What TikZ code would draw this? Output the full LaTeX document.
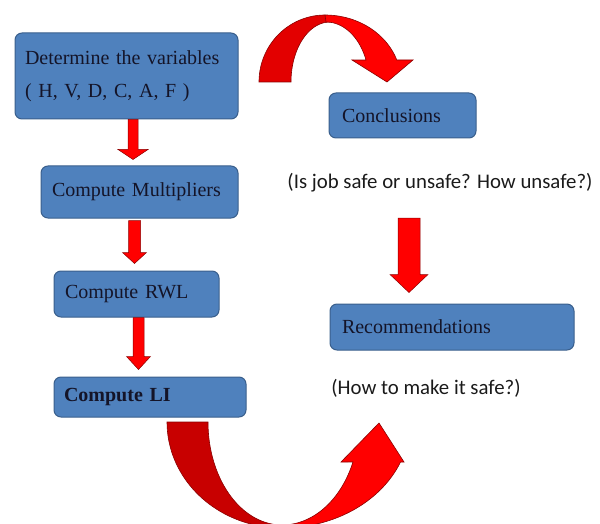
\documentclass[tikz,border=0pt]{standalone}
\usepackage{fontspec}
\setmainfont{Liberation Serif}
\newfontfamily\calibrifont{Carlito}
\usetikzlibrary{calc}
\definecolor{boxblue}{HTML}{4F81BD}
\definecolor{boxedge}{HTML}{3A5F8C}
\definecolor{boxtext}{HTML}{141428}
\definecolor{arrowred}{HTML}{FF0000}
\definecolor{backred}{HTML}{E30000}
\definecolor{backredd}{HTML}{C80000}
\definecolor{arrowedge}{HTML}{8A0000}
\definecolor{notetext}{HTML}{1A1A1A}
\tikzset{
  box/.style={rectangle, rounded corners=7pt, fill=boxblue, draw=boxedge, line width=1pt,
    text=boxtext, font=\fontsize{20}{24}\selectfont, align=left, inner ysep=0pt},
  note/.style={text=notetext, font=\calibrifont\fontsize{20.8}{24}\selectfont, inner sep=0pt},
  blockarrow/.style={fill=arrowred, draw=arrowedge, line width=0.5pt, line join=miter},
  curvefront/.style={fill=arrowred, draw=arrowedge, line width=0.6pt, line join=miter},
}
% #1 start coordinate, #2 tip coordinate, #3 shaft half width, #4 head half width, #5 head length
\newcommand\blkarrow[5]{%
  \path[blockarrow] let \p1=(#1), \p2=(#2) in
    (\x1-#3pt,\y1) -- (\x1+#3pt,\y1) -- (\x1+#3pt,\y2+#5pt) -- (\x1+#4pt,\y2+#5pt)
    -- (\x1,\y2) -- (\x1-#4pt,\y2+#5pt) -- (\x1-#3pt,\y2+#5pt) -- cycle;}
\begin{document}
\begin{tikzpicture}[x=1pt,y=-1pt]
\useasboundingbox (0,0) rectangle (600,524);
\clip (0,0) rectangle (600,524);

% boxes
\node[box, inner xsep=10pt, text width=203pt, minimum height=86pt, font=\fontsize{20}{33}\selectfont]
  (b1) at (126.5,76) {Determine the variables\\( H, V, D, C, A, F )};
\node[box, inner xsep=11pt, text width=175pt, minimum height=52pt] (b2) at (139.5,192) {Compute Multipliers};
\node[box, inner xsep=11pt, text width=143pt, minimum height=46pt] (b3) at (136.5,294) {Compute RWL};
\node[box, inner xsep=10pt, text width=172pt, minimum height=40pt] (b4) at (150,397) {\bfseries Compute LI};
\node[box, inner xsep=13pt, text width=121pt, minimum height=45pt] (b5) at (402.5,115.5) {Conclusions};
\node[box, inner xsep=12pt, text width=220pt, minimum height=46pt] (b6) at (452,327) {Recommendations};

% notes
\node[note] (t1) at (440,183) {(Is job safe or unsafe? How unsafe?)};
\node[note] (t2) at (426,388) {(How to make it safe?)};

% straight block arrows
\coordinate (a1s) at ([xshift=6.5pt]b1.south);
\coordinate (a1t) at ([xshift=-6.5pt,yshift=6pt]b2.north);
\blkarrow{a1s}{a1t}{5}{15}{10}
\coordinate (a2s) at ([xshift=-5pt,yshift=-2pt]b2.south);
\coordinate (a2t) at ([xshift=-5pt,yshift=7pt]b3.north);
\blkarrow{a2s}{a2t}{6}{12}{11}
\coordinate (a3s) at ([xshift=2pt]b3.south);
\coordinate (a3t) at ([xshift=2pt,yshift=7pt]b4.north);
\blkarrow{a3s}{a3t}{5.5}{12}{13}
\coordinate (a4s) at ([xshift=-31pt,yshift=-35pt]t1.center);
\coordinate (a4t) at ([xshift=-43pt,yshift=11pt]b6.north);
\blkarrow{a4s}{a4t}{11}{19}{18}

% top curved arrow (back part)
\filldraw[fill=backred, draw=arrowedge, line width=0.6pt]
  plot[domain=180:270, samples=40] ({325+66*cos(\x)},{82+67*sin(\x)})
  -- plot[domain=270:180, samples=40] ({330+39*cos(\x)},{82+60*sin(\x)}) -- cycle;
% top curved arrow (front part)
\filldraw[curvefront]
  plot[domain=270:340.8, samples=40] ({325+76*cos(\x)},{82+67*sin(\x)})
  -- (413,60) -- (387,82) -- (352,60)
  -- plot[domain=338.5:270, samples=40] ({326+43*cos(\x)},{82+60*sin(\x)}) -- cycle;

% bottom curved arrow (back part)
\filldraw[fill=backredd, draw=arrowedge, line width=0.6pt]
  plot[domain=180:90, samples=40] ({282+115*cos(\x)},{422+106*sin(\x)})
  -- plot[domain=90:180, samples=40] ({282+74*cos(\x)},{422+103*sin(\x)}) -- cycle;
% bottom curved arrow (front part)
\filldraw[curvefront]
  plot[domain=90:22.2, samples=40] ({282+128*cos(\x)},{422+106*sin(\x)})
  -- (404,462) -- (379,423) -- (341,462)
  -- plot[domain=22.85:90, samples=40] ({282+77*cos(\x)},{422+103*sin(\x)}) -- cycle;
\end{tikzpicture}
\end{document}
